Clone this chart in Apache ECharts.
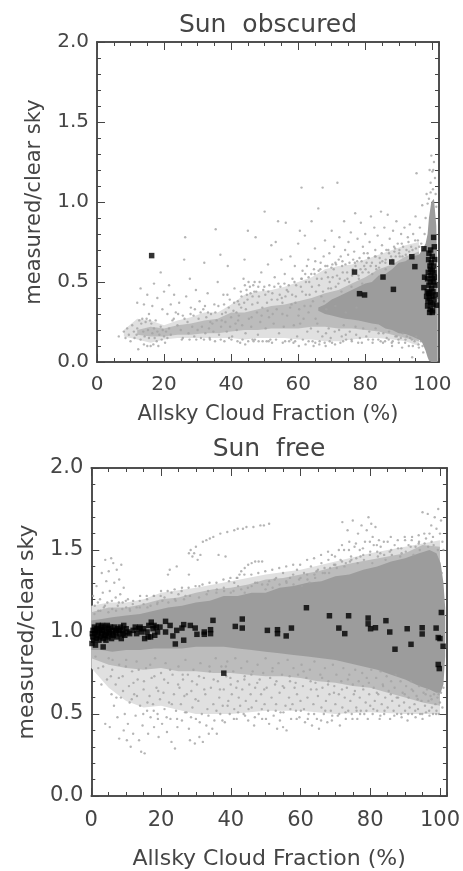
<!DOCTYPE html>
<html><head><meta charset="utf-8">
<style>html,body{margin:0;background:#fff}#c{width:463px;height:871px}</style>
<script src="https://cdn.jsdelivr.net/npm/echarts@6/dist/echarts.min.js"></script>
</head><body><div id="c"></div>
<script>
const xTicks=[0,20,40,60,80,100];
const titles=['Sun  obscured','Sun  free'];
const xName='Allsky Cloud Fraction (%)';
const yName='measured/clear sky';

// [x, low, high] of the grey mass, darkest to lightest tone
const obscuredCore=[[66,.32,.34],[68,.3,.36],[70,.29,.39],[72,.28,.41],[74,.27,.43],[76,.265,.45],[78,.26,.47],[80,.25,.49],[82,.24,.5],[84,.235,.54],[86,.21,.55],[88,.2,.58],[90,.18,.62],[92,.175,.63],[94,.16,.66],[96,.14,.67],[97,.12,.7],[98,.07,.74],[98.6,.03,.8],[99,.01,.9],[99.7,0,1.0],[100.5,0,1.02],[101.2,0,.85],[101.6,0,.4]];
const obscuredMid=[[12,.17,.2],[16,.16,.22],[20,.16,.21],[24,.17,.23],[28,.17,.24],[32,.18,.26],[36,.18,.27],[40,.19,.31],[44,.2,.31],[48,.2,.33],[52,.21,.35],[56,.21,.36],[60,.21,.38],[64,.22,.4],[68,.22,.43],[72,.21,.45],[76,.21,.49],[80,.2,.53],[84,.19,.58],[88,.17,.61],[92,.15,.66],[96,.13,.69]];
const obscuredHaze=[[8,.16,.2],[12,.14,.27],[16,.12,.26],[20,.14,.23],[24,.15,.26],[28,.15,.28],[32,.15,.31],[36,.15,.31],[40,.15,.36],[44,.14,.42],[48,.15,.44],[52,.15,.45],[56,.15,.47],[60,.14,.5],[64,.14,.53],[68,.13,.58],[72,.13,.6],[76,.14,.61],[80,.15,.64],[84,.15,.67],[88,.14,.7],[92,.13,.73],[96,.1,.75]];
const freeCore=[[0,.89,1.07],[3,.89,1.08],[6,.88,1.09],[10,.89,1.1],[14,.89,1.11],[18,.9,1.13],[22,.9,1.15],[26,.9,1.16],[30,.91,1.18],[34,.91,1.19],[38,.91,1.22],[42,.9,1.22],[46,.89,1.24],[50,.88,1.24],[54,.87,1.27],[58,.86,1.28],[62,.85,1.3],[66,.84,1.31],[70,.83,1.34],[74,.81,1.35],[78,.79,1.38],[82,.77,1.4],[86,.74,1.43],[90,.71,1.45],[94,.67,1.48],[97,.65,1.5],[99,.63,1.48],[100.2,.63,1.42],[101,.68,1.3],[101.5,.85,1.15]];
const freeMid=[[0,.84,1.12],[5,.8,1.15],[10,.78,1.15],[15,.77,1.17],[20,.78,1.2],[25,.76,1.21],[30,.76,1.24],[35,.75,1.26],[40,.75,1.27],[45,.74,1.29],[50,.73,1.32],[55,.73,1.33],[60,.72,1.35],[65,.7,1.37],[70,.69,1.4],[75,.67,1.42],[80,.66,1.44],[85,.63,1.46],[90,.6,1.48],[95,.57,1.53],[100,.55,1.52]];
const freeHaze=[[0,.78,1.16],[5,.66,1.18],[10,.58,1.18],[15,.54,1.2],[20,.55,1.24],[30,.5,1.27],[40,.5,1.31],[50,.52,1.35],[60,.52,1.38],[70,.5,1.43],[80,.51,1.48],[90,.5,1.52],[100,.5,1.56]];

// individual grey dots, x,y,x,y,...
const obscuredDots=[6.5,.16,8,.19,8.5,.15,9,.21,9.5,.17,10,.13,10.5,.23,11,.19,11.2,.15,11.8,.17,12,.21,12.3,.08,12.6,.26,13,.14,13.2,.24,13.5,.27,13.8,.19,14,.11,14.2,.16,14.5,.25,14.8,.27,15,.1,15.2,.2,15.5,.15,15.8,.26,16,.1,16.2,.24,16.5,.18,16.8,.11,17,.21,17.2,.15,17.5,.26,17.8,.13,18,.19,18.3,.1,18.6,.17,19,.22,19.3,.14,19.6,.2,20,.16,20.3,.12,20.6,.19,21,.15,21.5,.21,22,.17,
12,.37,13,.46,14,.36,15,.42,15.5,.3,16.5,.35,17,.49,18,.4,19,.56,19.5,.33,20,.44,21,.3,21.5,.48,22,.36,22.5,.26,23,.42,23.5,.31,24,.23,24.5,.37,25,.2,25.3,.14,25.6,.29,26,.64,26.3,.78,26.6,.41,27,.25,27.3,.18,27.7,.52,28,.34,28.4,.22,28.8,.29,29,.16,29.5,.45,30,.2,30.3,.27,30.6,.38,31,.15,31.3,.22,31.7,.33,32,.62,32.3,.18,32.6,.28,33,.43,33.4,.21,33.7,.14,34,.3,34.4,.24,34.7,.19,35,.36,35.4,.83,35.7,.26,36,.5,36.4,.17,36.8,.67,37,.22,37.3,.3,37.7,.42,38,.13,38.3,.25,38.7,.19,39,.6,39.3,.34,39.7,.22,40,.28,40.3,.16,40.7,.32,41,.46,41.3,.24,41.7,.2,42,.38,42.3,.29,42.7,.12,43,.34,43.3,.23,43.7,.52,44,.64,44.3,.18,44.7,.42,45,.82,45.3,.27,45.6,.47,46,.22,46.3,.36,46.7,.13,47,.5,47.3,.78,47.7,.31,48,.17,48.3,.41,48.7,.25,49,.56,49.3,.34,49.6,.45,50,.94,50.3,.21,50.7,.37,51,.61,51.3,.28,51.7,.14,52,.73,52.3,.43,52.7,.24,53,.53,53.3,.75,53.6,.33,54,.88,54.3,.18,54.7,.47,55,.64,55.3,.37,55.7,.22,56,.55,56.3,.87,56.7,.29,57,.44,57.3,.13,57.7,.66,58,.36,58.3,.52,58.7,.23,59,.6,59.3,.41,59.7,.16,60,.74,60.3,.33,60.5,.82,60.8,.47,61,1.09,61.3,.57,61.6,.27,62,.79,62.3,.42,62.7,.19,63,.64,63.3,.5,63.7,.35,64,.88,64.3,.13,64.7,.58,65,.71,65.3,.44,65.7,.24,66,.96,66.3,.11,66.7,.62,67,.52,67.3,1.09,67.7,.38,68,.76,68.3,.18,68.7,.6,69,.46,69.3,.68,69.7,.15,70,.82,70.3,.53,70.7,.72,71,.11,71.3,.61,71.7,1.12,72,.49,72.3,.78,72.7,.66,73,.16,73.3,.56,73.7,.88,74,.7,74.3,.14,74.7,.52,75,.75,75.3,.62,75.7,.81,76,.13,76.3,.58,76.7,.69,77,.93,77.3,.17,77.7,.77,78,.54,78.3,.65,78.7,.87,79,.12,79.3,.72,79.7,.6,80,.8,80.3,.16,80.7,.68,81,.56,81.3,.75,81.7,.91,82,.62,82.3,.14,82.7,.84,83,.7,83.3,.58,83.7,.79,84,.18,84.3,.65,84.7,.94,85,.73,85.3,.12,85.7,.84,86,.62,86.3,.7,86.7,.92,87,.14,87.3,.77,87.7,.66,88,.1,88.3,.82,88.7,.69,89,.16,89.3,.88,89.7,.74,90,.12,90.3,.66,90.7,.8,91,.09,91.3,.72,91.7,.84,92,.14,92.3,.7,92.7,.78,93,.1,93.3,.86,93.7,.72,94,.03,94.3,.8,94.7,.13,95,.91,95.3,1.18,95.7,.76,96,.09,96.3,.84,96.7,.74,97,.98,97.3,.06,97.7,.8,98,.9,98.3,1.05,98.6,.99,99,1.02,99.2,1.2,99.5,1.12,99.7,1.29,100,1.19,100.2,1.08,100.5,1.25,100.8,1.15,101,1.05,101.2,.97,99.5,1.06,100.3,1.2,
42.4,.36,43.1,.41,44.6,.45,44.9,.39,45.2,.5,45.8,.43,46.4,.41,46.6,.48,47.5,.44,48.5,.5,50.2,.42,51.4,.48,52.1,.39,54.5,.42,55.1,.4,56.6,.45,58.2,.42,59.4,.48,61.2,.44,62.3,.5,63.4,.42,64.1,.47,65.6,.52,66.2,.48,67.4,.44,68.2,.56,69.4,.5,70.6,.58,71.2,.47,72.4,.52,73.1,.6,74.6,.56,75.2,.5,76.4,.64,77.1,.6,78.6,.58,79.2,.56,80.4,.62,81.6,.6,83.2,.6,84.4,.62,86.1,.64,88.6,.72,90.2,.7,
35.2,.13,39.4,.15,44.2,.11,46.4,.14,48.2,.13,50.6,.13,52.2,.12,55.4,.12,58.6,.12,60.2,.1,61.4,.14,62.2,.11,64.6,.1,66.4,.13,68.2,.1,69.4,.13,72.6,.12,74.2,.17,78.4,.15,82.2,.12,84.6,.13,86.4,.15,88.2,.13,90.6,.15,92.4,.16,94.2,.1,96.6,.13,
41.6,.31,37.2,.26,33.8,.25,38.4,.31,42.1,.26,44.4,.33,46.1,.28,47.9,.37,49.1,.29,50.9,.32,52.4,.3,53.8,.39,55.3,.3,56.2,.41,57.6,.34,59.2,.37,60.1,.29,61.9,.35,63.1,.31,64.4,.38,65.2,.27,66.9,.41,68.4,.33,69.8,.46,71.1,.35,72.9,.44,74.2,.31,75.9,.47,77.4,.34,79.1,.49,60.6,.24,63.8,.21,65.9,.19,67.2,.16,69.1,.21,70.9,.19,72.2,.2,73.6,.23,75.4,.19,77.1,.22,79.4,.21,81.2,.19,83.1,.21,85.4,.18,87.1,.19,89.4,.16,91.2,.18,93.4,.15,95.2,.16,
61.1,.52,62.6,.6,63.9,.55,65.1,.63,66.1,.57,67.6,.66,68.9,.53,70.2,.61,71.6,.54,72.1,.64,73.9,.51,74.9,.67,76.1,.54,77.6,.63,78.1,.52,79.6,.68,80.1,.58,81.1,.65,82.1,.55,83.1,.66,84.1,.59,85.1,.63,86.1,.58,87.1,.68,88.1,.64,89.1,.66,90.1,.68,91.1,.66,92.1,.67,93.1,.69,94.1,.7,95.1,.71,96.1,.72,
22.9,.27,24.2,.3,26.1,.27,27.9,.3,29.2,.33,30.9,.31,32.2,.35,33.1,.31,35.3,.31,36.2,.35,37.9,.36,38.9,.42,39.6,.39,40.9,.37,42.9,.44,43.9,.37,44.1,.48,46.9,.44,48.1,.47,49.9,.47,51.1,.44,52.9,.47,54.1,.49,55.9,.49,57.2,.48,58.9,.5,60.9,.52,62.1,.55,63.1,.53,64.9,.55,66.6,.58,68.1,.6,69.9,.59,71.1,.62,73.2,.63,74.1,.61,76.9,.62,78.9,.63,80.9,.65,82.9,.66,84.9,.68,86.9,.7,88.9,.71,90.9,.74,92.9,.75,94.9,.76,
25.6,.15,27.6,.14,29.6,.14,31.9,.14,33.6,.15,36.9,.14,40.1,.14,41.9,.13,43.4,.14,45.1,.13,47.1,.14,49.4,.13,51.2,.13,53.4,.14,56.1,.13,57.9,.14,59.1,.13,63.1,.13,65.1,.12,67.9,.12,70.1,.12,73.4,.13,75.9,.14,77.9,.12,80.9,.14,83.9,.14,85.9,.13,87.9,.12,89.9,.14,91.9,.12,93.9,.14,95.9,.11,97.1,.1];
const freeDots=[0.5,1.22,1,1.16,1.5,1.28,2,1.13,2.5,1.2,3,1.36,3.3,1.24,3.6,1.15,4,1.44,4.3,1.31,4.6,1.18,5,1.37,5.3,1.25,5.7,1.45,6,1.14,6.3,1.42,6.6,1.3,7,1.21,7.3,1.38,7.6,1.16,8,1.32,8.3,1.23,8.6,1.41,9,1.18,9.3,1.27,10,1.15,10.5,1.2,11,1.14,12,1.19,13,1.15,14,1.22,15,1.17,16,1.2,17,1.16,18,1.22,19,1.18,20,1.25,21,1.21,22,1.35,22.5,1.38,23,1.24,24,1.2,24.5,1.4,25,1.23,26,1.27,27,1.22,28,1.35,28,1.48,28.5,1.5,29,1.46,29.5,1.48,30,1.52,30.5,1.44,31,1.28,31.3,1.47,32,1.55,33,1.56,33.5,1.25,34,1.57,35,1.58,36,1.26,36.5,1.47,37,1.6,38,1.27,38.5,1.46,39,1.61,39.5,1.31,40,1.24,41,1.62,41,1.3,41.7,1.33,42,1.63,42.5,1.35,43,1.37,43.5,1.63,44,1.39,44.5,1.64,45,1.41,46,1.42,46.5,1.64,47,1.43,48,1.43,48.5,1.65,49,1.43,49.5,1.65,51,1.66,43,1.26,44,1.24,46,1.28,47,1.3,49,1.29,50,1.26,51,1.31,52,1.27,53,1.33,54,1.29,55,1.36,56,1.3,57,1.33,58,1.29,59,1.38,60,1.33,61,1.36,62,1.32,63,1.4,64,1.35,65,1.38,66,1.42,67,1.36,68,1.44,68.5,1.39,69,1.47,70,1.41,71,1.5,71.5,1.44,72,1.67,72.5,1.5,73,1.42,73.5,1.62,74,1.55,74.5,1.46,75,1.68,75.5,1.52,76,1.45,76.5,1.6,77,1.5,77.5,1.65,78,1.47,78.5,1.55,79,1.62,79.5,1.7,80,1.49,80.3,1.66,80.7,1.58,81,1.53,81.5,1.64,82,1.49,82.5,1.56,83,1.52,84,1.47,85,1.55,86,1.5,87,1.53,88,1.51,89,1.48,90,1.56,91,1.53,92,1.58,93,1.52,94,1.55,95,1.73,95.5,1.6,96,1.57,96.5,1.72,97,1.6,97.5,1.65,98,1.58,98.5,1.7,99,1.63,99.5,1.75,100,1.6,100.3,1.68,100.7,1.55,101,1.5,100.5,1.36,
2,.78,4,.44,4.5,.71,5,.84,5.3,.42,5.8,.62,6,.77,6.5,.55,7,.68,7.5,.48,8,.8,8,.35,8.5,.6,9,.73,9.3,.4,9.6,.5,10,.83,10.2,.34,10.5,.44,10.8,.67,11,.57,11.3,.3,11.7,.76,12,.38,12.3,.62,12.7,.49,13,.82,13.3,.71,13.7,.34,14,.55,14.3,.27,14.7,.43,15,.65,15.3,.26,15.7,.78,16,.52,16.3,.38,16.7,.61,17,.48,17.3,.72,17.7,.56,18,.42,18.3,.84,18.7,.66,19,.5,19.3,.36,19.7,.59,20,.75,20.3,.44,20.7,.63,21,.53,21.3,.81,21.7,.39,22,.69,22.3,.57,22.7,.47,23,.33,23.3,.74,23.7,.62,24,.29,24.3,.52,24.7,.42,25,.79,25.3,.66,25.7,.56,26,.46,26.3,.71,26.7,.61,27,.83,27.3,.51,27.7,.74,28,.41,28.3,.34,28.7,.64,29,.54,29.3,.77,29.7,.32,30,.47,30.3,.68,30.7,.58,31,.36,31.3,.81,31.7,.5,32,.33,32.3,.72,32.7,.62,33,.43,33.3,.53,33.7,.38,34,.76,34.3,.66,34.7,.41,35,.56,35.3,.46,35.7,.84,36,.38,36.3,.7,36.7,.6,37,.5,37.3,.79,37.7,.55,38,.65,38.3,.45,38.7,.73,39,.82,39.3,.58,39.7,.5,40,.68,40.3,.62,40.7,.76,41,.53,41.3,.84,41.7,.47,42,.7,42.3,.6,42.7,.55,43,.78,43.3,.65,43.7,.5,44,.73,44.3,.58,44.7,.82,45,.46,45.3,.68,45.7,.62,46,.54,46.3,.76,46.7,.43,47,.66,47.3,.58,47.7,.8,48,.5,48.3,.71,48.7,.62,49,.47,49.3,.75,49.7,.56,50,.84,50.3,.66,50.7,.52,51,.44,51.3,.72,51.7,.6,52,.78,52.3,.49,52.7,.68,53,.56,53.3,.41,53.7,.81,54,.63,54.3,.51,54.7,.74,55,.42,55.3,.66,55.7,.55,56,.4,56.3,.83,56.7,.6,57,.7,57.3,.47,57.7,.56,58,.78,58.3,.66,58.7,.52,59,.62,59.3,.74,59.7,.48,60,.58,60.3,.8,60.7,.67,61,.53,61.3,.45,61.7,.72,62,.6,62.3,.5,62.7,.77,63,.65,63.3,.43,63.7,.56,64,.82,64.3,.69,64.7,.47,65,.61,65.3,.41,65.7,.74,66,.54,66.3,.66,66.7,.5,67,.78,67.3,.58,67.7,.45,68,.7,68.3,.62,68.7,.52,69,.46,69.3,.8,69.7,.67,70,.56,70.3,.74,70.7,.49,71,.62,71.3,.43,71.7,.7,72,.54,72.3,.78,72.7,.6,73,.47,73.3,.66,73.7,.52,74,.74,74.3,.58,74.7,.5,75,.68,75.3,.62,75.7,.77,76,.54,76.3,.47,76.7,.7,77,.6,77.3,.52,77.7,.75,78,.65,78.3,.5,78.7,.57,79,.72,79.3,.47,79.7,.62,80,.55,80.3,.77,80.7,.5,81,.66,81.3,.58,81.7,.72,82,.52,82.3,.62,82.7,.47,83,.76,83.3,.56,83.7,.67,84,.5,84.3,.6,84.7,.73,85,.54,85.3,.64,85.7,.47,86,.7,86.3,.58,86.7,.52,87,.66,87.3,.74,87.7,.5,88,.6,88.3,.55,88.7,.7,89,.48,89.3,.63,89.7,.57,90,.52,90.3,.67,90.7,.46,91,.6,91.3,.54,91.7,.7,92,.5,92.3,.64,92.7,.56,93,.48,93.3,.61,93.7,.53,94,.67,94.3,.5,94.7,.58,95,.47,95.3,.63,95.7,.55,96,.51,96.3,.65,96.7,.58,97,.49,97.3,.61,97.7,.54,98,.5,98.3,.62,98.7,.56,99,.52,99.3,.6,99.7,.5,100,.57,100.3,.63,100.7,.54,101,.66,
60.4,1.28,62.6,1.3,64.2,1.33,66.4,1.36,68.2,1.36,70.4,1.39,72.6,1.4,74.2,1.43,76.4,1.42,78.2,1.44,80.6,1.42,82.2,1.46,84.4,1.44,86.2,1.47,88.6,1.46,90.2,1.49,92.4,1.47,94.2,1.5,96.6,1.52,98.2,1.53,99.4,1.5,
1.2,.85,3.4,.79,6.1,.83,7.9,.72,9.9,.79,12.1,.69,13.6,.77,15.1,.7,16.9,.8,18.1,.73,19.2,.64,20.9,.71,22.6,.77,24.9,.68,26.2,.74,27.4,.62,28.9,.7,30.9,.73,32.4,.65,33.9,.79,35.1,.71,36.9,.65,38.6,.79,39.9,.72,41.6,.66,43.9,.71,45.9,.74,47.6,.69,49.6,.65,51.9,.76,53.1,.7,54.9,.67,56.9,.73,58.6,.69,60.9,.76,62.9,.7,64.6,.65,66.2,.72,67.9,.68,69.6,.63,71.9,.65,73.6,.71,75.6,.64,77.9,.67,79.6,.69,81.9,.63,83.6,.68,85.9,.62,87.6,.6,89.9,.62,91.9,.65,93.6,.59,95.9,.62,97.6,.59,99.6,.62,
.9,1.11,2.6,1.13,4.9,1.12,7.1,1.13,8.9,1.14,11.1,1.13,13.9,1.15,16.1,1.15,18.9,1.17,20.4,1.19,22.1,1.18,24.2,1.19,26.6,1.2,28.3,1.22,30.9,1.21,33.1,1.23,35.9,1.24,38.1,1.25,40.8,1.25,42.1,1.28,44.9,1.27,47.6,1.3,50.6,1.29,52.6,1.32,55.9,1.31,57.9,1.35,59.6,1.32,61.9,1.35,64.6,1.37,66.9,1.39,69.6,1.41,71.9,1.43,74.6,1.44,77.2,1.46,79.9,1.47,82.9,1.48,85.6,1.49,88.9,1.51,91.6,1.52,93.9,1.54,95.6,1.54,97.6,1.55,
2.9,.68,5.6,.73,7.2,.6,9.1,.64,11.6,.59,13.1,.61,14.9,.5,16.1,.57,17.9,.52,19.1,.47,21.6,.48,23.1,.56,24.6,.47,26.9,.51,28.6,.48,29.9,.59,31.1,.45,33.6,.49,35.9,.52,37.6,.46,39.1,.55,40.9,.47,42.1,.51,44.1,.49,45.1,.53,46.9,.48,48.9,.53,50.1,.47,52.9,.52,54.1,.46,55.1,.51,57.1,.53,58.9,.47,60.1,.52,62.1,.47,63.9,.5,65.9,.46,67.1,.52,69.1,.49,71.1,.5,72.9,.51,74.9,.47,76.1,.52,77.1,.5,78.9,.52,80.9,.53,82.9,.49,84.1,.52,86.9,.49,88.9,.5,90.9,.5,92.9,.52,94.9,.5,96.9,.52,98.9,.5,
1.9,1.18,3.9,1.16,5.9,1.19,7.9,1.18,9.9,1.19,11.9,1.17,13.9,1.19,15.9,1.22,17.9,1.22,19.9,1.22,21.9,1.25,23.9,1.26,25.9,1.25,27.9,1.27,29.9,1.28,31.9,1.29,33.9,1.3,35.9,1.3,37.9,1.32,39.9,1.33,41.9,1.33,43.9,1.35,45.9,1.35,47.9,1.36,49.9,1.37,51.9,1.38,53.9,1.39,55.9,1.4,57.9,1.41,59.9,1.41,61.9,1.44,63.9,1.45,65.9,1.47,67.9,1.49,69.9,1.46,71.9,1.53,73.9,1.5,75.9,1.54,77.9,1.51,79.9,1.55,81.9,1.53,83.9,1.55,85.9,1.58,87.9,1.56,89.9,1.58,91.9,1.56,93.9,1.59];

const obscuredBlack=[16.3,.665,76.8,.562,78.3,.427,79.8,.419,85.3,.531,87.9,.625,88.4,.454,93.9,.658,94.8,.596,97.5,.708,100.4,.779,99.5,.7,100.6,.72,99,.68,100,.66,100.7,.64,98.9,.64,99.7,.62,100.4,.6,99.5,.58,100.5,.56,98.8,.56,99.6,.54,100.6,.53,97.7,.53,98.6,.52,99.4,.5,100.4,.5,100.8,.48,99,.48,99.8,.46,97.5,.465,98.5,.44,99.3,.43,100.2,.44,100.9,.42,98.3,.41,99.1,.4,99.9,.41,100.5,.39,98.7,.38,99.5,.37,100.2,.36,101.2,.355,98.6,.35,99.4,.33,100.1,.32,99.2,.31,100,.31,98.9,.43,100,.57,100.1,.52,99.3,.6];
const freeBlack=[3.4,.909,38,.749,61.7,1.148,68.3,1.099,73.8,1.099,71,1.024,72.7,.99,50.5,1.01,53.4,1.014,53.4,.99,55.9,.976,57.4,1.024,41.3,1.034,43.3,1.079,43.3,1.024,34.9,1.071,34.2,1.014,34.2,.99,32.4,1,32.4,.986,30.3,.986,29.8,1.024,28.4,1.04,26.5,.95,26.5,1.045,26,1.024,24.1,.927,23.4,.976,24.5,1.01,22.6,1.04,21.3,1.065,21.3,1,79.4,1.085,79.4,1.05,80.1,1.02,81.5,1.026,84.5,1.069,85.6,1,87.1,.895,90.6,1.02,91.7,.925,94.9,1.026,94.9,.988,98.9,1.024,99.5,.966,100,.96,100.4,1.119,100.9,.913,99.5,.802,99.8,.777,
.2,.93,.4,.97,.5,1.01,.7,.95,.9,1.03,1,.99,1.2,.92,1.4,.96,1.6,1.02,1.8,.98,2,1.04,2.2,.95,2.4,1.01,2.6,.97,2.8,1.03,3,.99,3.2,1.04,3.4,.96,3.6,1.01,3.8,.98,4,1.03,4.2,.95,4.4,1,4.6,1.04,4.8,.97,5,1.02,5.2,.99,5.5,1.03,5.8,.96,6,1.01,6.3,.98,6.6,1.03,7,1,7.3,.97,7.6,1.02,8,.99,8.3,1.03,8.6,.96,9,1.01,9.3,1.04,9.6,.98,10,1.02,10.5,1,11,.99,12,1.01,12.6,1.03,13,.99,13.6,1.02,14,1.03,14.4,1,15,1.02,15.3,.96,16,1,16.5,1.04,17,.97,17.2,1.06,17.7,1.02,18.2,.98,18.6,1.03,19,1,19.7,1.03,16.3,.97,18,1.04,.3,.99,1.1,1.01,2.1,1,3.1,1.01,4.1,.98,5.1,1,6.1,.99,7.1,1.01,8.1,1.01,9.1,.99];

const CORE='#9c9c9c', MID='#bcbcbc', HAZE='#e0e0e0', GREY='#a2a2a2', INK='#454545', FONT='"DejaVu Sans",sans-serif';
const pairs=a=>{const o=[];for(let i=0;i<a.length;i+=2)o.push([a[i],a[i+1]]);return o;};

function band(rows,gi,color){
  return {type:'custom',xAxisIndex:gi*4,yAxisIndex:gi*4,silent:true,clip:true,data:rows,
    encode:{x:0,y:[1,2]},z:1,
    renderItem(p,api){
      if(p.dataIndex!==0) return null;
      const pts=rows.map(r=>api.coord([r[0],r[2]])).concat(rows.slice().reverse().map(r=>api.coord([r[0],r[1]])));
      return {type:'polygon',shape:{points:pts},style:{fill:color}};
    }};
}
const frameLine={show:true,onZero:false,lineStyle:{color:INK,width:1.5}};
function xAxes(gi){
  const common={type:'value',gridIndex:gi,min:0,max:102,axisLine:frameLine,splitLine:{show:false}};
  const tick=length=>({inside:true,length,lineStyle:{color:INK}});
  return [
   {...common,position:'bottom',interval:20,name:xName,nameLocation:'middle',nameGap:gi?52:42,
    nameTextStyle:{color:INK,fontFamily:FONT,fontSize:gi?22:21},
    axisLabel:{color:INK,fontFamily:FONT,fontSize:gi?21:20,margin:gi?14:13,customValues:xTicks},
    axisTick:{...tick(8),customValues:xTicks}},
   {...common,position:'top',interval:20,axisLabel:{show:false},axisTick:{...tick(8),customValues:xTicks}},
   {...common,position:'bottom',interval:5,axisLabel:{show:false},axisTick:tick(4)},
   {...common,position:'top',interval:5,axisLabel:{show:false},axisTick:tick(4)}
  ];
}
function yAxes(gi){
  const common={type:'value',gridIndex:gi,min:0,max:2,splitLine:{show:false},axisLine:frameLine};
  const tick=length=>({inside:true,length,lineStyle:{color:INK}});
  return [
   {...common,position:'left',interval:.5,name:yName,nameLocation:'middle',nameGap:gi?53:52,
    nameTextStyle:{color:INK,fontFamily:FONT,fontSize:gi?22:21},
    axisLabel:{color:INK,fontFamily:FONT,fontSize:gi?21:20,margin:8,formatter:v=>v.toFixed(1)},axisTick:tick(8)},
   {...common,position:'right',interval:.5,axisLabel:{show:false},axisTick:tick(8)},
   {...common,position:'left',interval:.1,axisLabel:{show:false},axisTick:tick(4)},
   {...common,position:'right',interval:.1,axisLabel:{show:false},axisTick:tick(4)}
  ];
}
function scatter(gi,data,color,size,symbol,z){
  return {type:'scatter',xAxisIndex:gi*4,yAxisIndex:gi*4,data:pairs(data),symbol,symbolSize:size,
    itemStyle:{color},z,silent:true};
}
const chart=echarts.init(document.getElementById('c'),null,{renderer:'canvas'});
chart.setOption({
  animation:false,backgroundColor:'#fff',
  title:[
   {text:titles[0],left:263,top:8,textAlign:'center',textStyle:{color:INK,fontFamily:FONT,fontWeight:'normal',fontSize:25}},
   {text:titles[1],left:264,top:432,textAlign:'center',textStyle:{color:INK,fontFamily:FONT,fontWeight:'normal',fontSize:25}}
  ],
  grid:[{left:97,top:42,width:342,height:320},{left:91.3,top:468,width:356,height:337}],
  xAxis:[...xAxes(0),...xAxes(1)],
  yAxis:[...yAxes(0),...yAxes(1)],
  series:[
   band(obscuredHaze,0,HAZE),band(obscuredMid,0,MID),band(obscuredCore,0,CORE),
   scatter(0,obscuredDots,GREY,2.4,'circle',3),scatter(0,obscuredBlack,'#000',5.5,'rect',5),
   band(freeHaze,1,HAZE),band(freeMid,1,MID),band(freeCore,1,CORE),
   scatter(1,freeDots,GREY,2.4,'circle',3),scatter(1,freeBlack,'#000',5.5,'rect',5)
  ]
});
</script></body></html>
